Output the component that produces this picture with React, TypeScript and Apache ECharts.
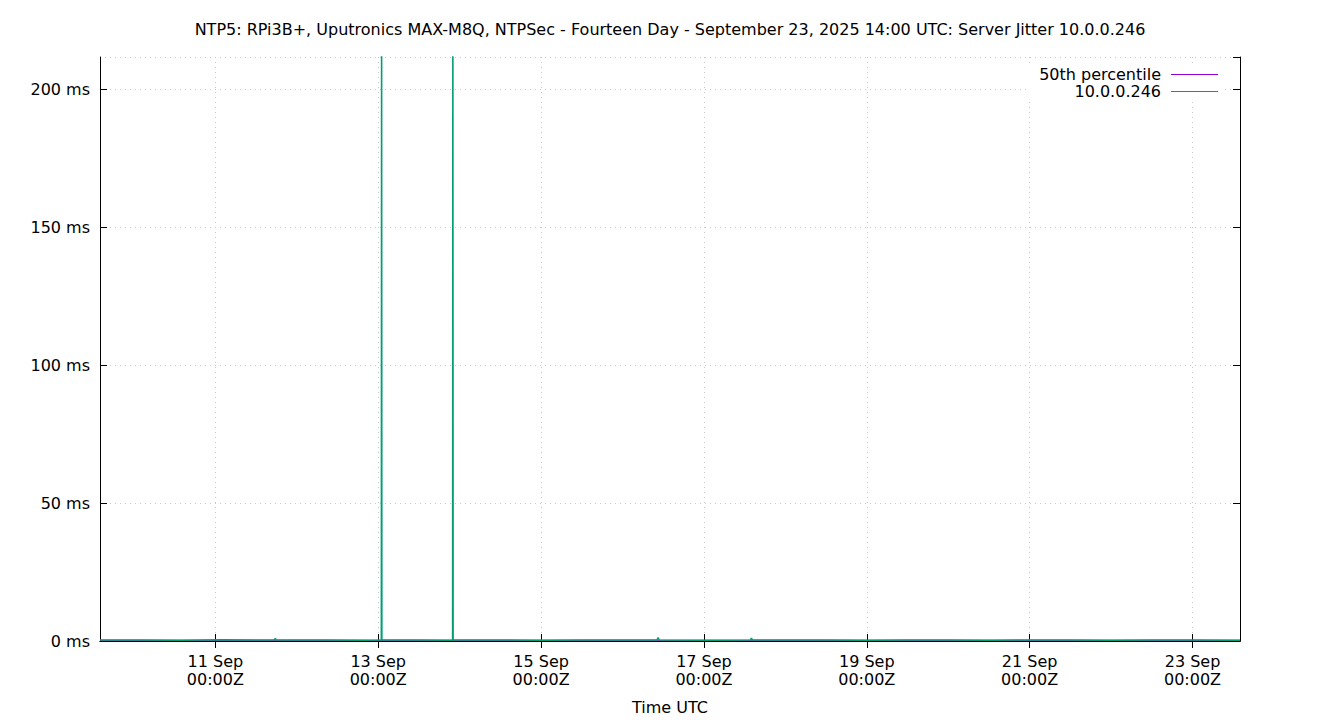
import { useEffect, useRef } from 'react';
import * as echarts from 'echarts';

const titleText =
  'NTP5: RPi3B+, Uputronics MAX-M8Q, NTPSec - Fourteen Day - September 23, 2025 14:00 UTC: Server Jitter 10.0.0.246';

const rangeStart = '2025-09-09T14:00:00Z';
const rangeEnd = '2025-09-23T14:00:00Z';

// x tick positions (every two days at midnight)
const dayTicks = [
  '2025-09-11T00:00:00Z',
  '2025-09-13T00:00:00Z',
  '2025-09-15T00:00:00Z',
  '2025-09-17T00:00:00Z',
  '2025-09-19T00:00:00Z',
  '2025-09-21T00:00:00Z',
  '2025-09-23T00:00:00Z'
];

const yMaxMs = 211.6;
const yStepMs = 50;

const seriesNames = ['50th percentile', '10.0.0.246'];

// 50th percentile of jitter, ms
const percentileMs = 0.25;

// server jitter samples
const jitterTimes = [
  '2025-09-09T14:00:00Z',
  '2025-09-10T02:00:00Z',
  '2025-09-10T14:00:00Z',
  '2025-09-11T02:00:00Z',
  '2025-09-11T14:00:00Z',
  '2025-09-11T17:20:00Z',
  '2025-09-11T17:40:00Z',
  '2025-09-11T18:00:00Z',
  '2025-09-12T08:00:00Z',
  '2025-09-12T20:00:00Z',
  '2025-09-13T00:55:00Z',
  '2025-09-13T01:00:00Z',
  '2025-09-13T01:05:00Z',
  '2025-09-13T12:00:00Z',
  '2025-09-13T21:55:00Z',
  '2025-09-13T22:00:00Z',
  '2025-09-13T22:05:00Z',
  '2025-09-14T12:00:00Z',
  '2025-09-15T00:00:00Z',
  '2025-09-15T12:00:00Z',
  '2025-09-16T00:00:00Z',
  '2025-09-16T10:10:00Z',
  '2025-09-16T10:30:00Z',
  '2025-09-16T10:50:00Z',
  '2025-09-17T02:00:00Z',
  '2025-09-17T13:40:00Z',
  '2025-09-17T14:00:00Z',
  '2025-09-17T14:20:00Z',
  '2025-09-18T00:00:00Z',
  '2025-09-18T12:00:00Z',
  '2025-09-19T00:00:00Z',
  '2025-09-19T12:00:00Z',
  '2025-09-20T00:00:00Z',
  '2025-09-20T12:00:00Z',
  '2025-09-21T00:00:00Z',
  '2025-09-21T12:00:00Z',
  '2025-09-22T00:00:00Z',
  '2025-09-22T12:00:00Z',
  '2025-09-23T00:00:00Z',
  '2025-09-23T14:00:00Z'
];
const jitterMs = [
  0.35, 0.4, 0.3, 0.45, 0.35, 0.4, 0.9, 0.35, 0.4, 0.3, 0.35, 260, 0.4, 0.35, 0.3, 260, 0.35, 0.4,
  0.3, 0.35, 0.4, 0.4, 1.2, 0.35, 0.3, 0.4, 1.0, 0.35, 0.35, 0.4, 0.3, 0.35, 0.4, 0.3, 0.35, 0.4,
  0.3, 0.35, 0.4, 0.3
];

const monthNames = ['Jan', 'Feb', 'Mar', 'Apr', 'May', 'Jun', 'Jul', 'Aug', 'Sep', 'Oct', 'Nov', 'Dec'];
const pad2 = (n: number) => String(n).padStart(2, '0');

const fontFamily = "'DejaVu Sans', sans-serif";
// thin horizontal bar used as legend key
const legendKey = 'path://M0,0 H47 V1 H0 Z';

const App: React.FC = () => {
  const chartRef = useRef<HTMLDivElement>(null);

  useEffect(() => {
    if (!chartRef.current) return;
    const chart = echarts.init(chartRef.current, undefined, { renderer: 'svg' });

    const xMin = Date.parse(rangeStart);
    const xMax = Date.parse(rangeEnd);
    const tickValues = dayTicks.map((t) => Date.parse(t));
    const jitterData = jitterTimes.map((t, i) => [Date.parse(t), jitterMs[i]]);
    const percentileData = [
      [xMin, percentileMs],
      [xMax, percentileMs]
    ];

    const tickLabel = (value: number) => {
      const d = new Date(value);
      return `${d.getUTCDate()} ${monthNames[d.getUTCMonth()]}\n${pad2(d.getUTCHours())}:${pad2(d.getUTCMinutes())}Z`;
    };

    const frameLine = { show: true, lineStyle: { color: '#000', width: 1 } };
    const innerTick = { show: true, inside: true, length: 7, lineStyle: { color: '#000', width: 1 } };
    const gridLine = { show: true, lineStyle: { color: '#c8c8c8', type: [1, 4], width: 1 } };

    chart.setOption({
      animation: false,
      backgroundColor: '#fff',
      textStyle: { fontFamily },
      title: {
        text: titleText,
        left: 'center',
        top: 16,
        textStyle: { fontFamily, fontSize: 16, fontWeight: 'normal', color: '#000' }
      },
      grid: { left: 100, right: 100, top: 57, bottom: 79, containLabel: false, outerBoundsMode: 'none' },
      legend: {
        orient: 'vertical',
        right: 118,
        top: 64,
        align: 'right',
        icon: legendKey,
        itemWidth: 47,
        itemHeight: 14,
        itemGap: 0,
        padding: [2, 4, 2, 12],
        backgroundColor: '#fff',
        textStyle: { fontFamily, fontSize: 16, lineHeight: 17, color: '#000', padding: [0, 5, 0, 0] },
        data: seriesNames
      },
      xAxis: [
        {
          type: 'value',
          min: xMin,
          max: xMax,
          position: 'bottom',
          axisLine: frameLine,
          axisTick: { ...innerTick, customValues: tickValues },
          axisLabel: {
            customValues: tickValues,
            formatter: tickLabel,
            fontFamily,
            fontSize: 16,
            color: '#000',
            lineHeight: 18,
            margin: 11,
            hideOverlap: false
          },
          splitLine: gridLine,
          name: 'Time UTC',
          nameLocation: 'middle',
          nameGap: 58,
          nameTextStyle: { fontFamily, fontSize: 16, color: '#000', verticalAlign: 'top' }
        },
        {
          type: 'value',
          min: xMin,
          max: xMax,
          position: 'top',
          axisLine: frameLine,
          axisTick: { ...innerTick, customValues: tickValues },
          axisLabel: { show: false },
          splitLine: { show: false }
        }
      ],
      yAxis: [
        {
          type: 'value',
          min: 0,
          max: yMaxMs,
          interval: yStepMs,
          position: 'left',
          axisLine: frameLine,
          axisTick: innerTick,
          axisLabel: {
            formatter: '{value} ms',
            fontFamily,
            fontSize: 16,
            color: '#000',
            margin: 10,
            showMaxLabel: false
          },
          splitLine: gridLine
        },
        {
          type: 'value',
          min: 0,
          max: yMaxMs,
          interval: yStepMs,
          position: 'right',
          axisLine: frameLine,
          axisTick: innerTick,
          axisLabel: { show: false },
          splitLine: { show: false }
        }
      ],
      series: [
        {
          name: seriesNames[0],
          type: 'line',
          data: percentileData,
          symbol: 'none',
          color: '#9400d3',
          lineStyle: { color: '#9400d3', width: 1 }
        },
        {
          name: seriesNames[1],
          type: 'line',
          data: jitterData,
          symbol: 'none',
          color: '#009e73',
          lineStyle: { color: '#009e73', width: 1.5 }
        }
      ]
    });

    return () => {
      chart.dispose();
    };
  }, []);

  return (
    <div
      ref={chartRef}
      style={{ position: 'fixed', left: 0, top: 0, width: '1340px', height: '720px' }}
    />
  );
};

export default App;
